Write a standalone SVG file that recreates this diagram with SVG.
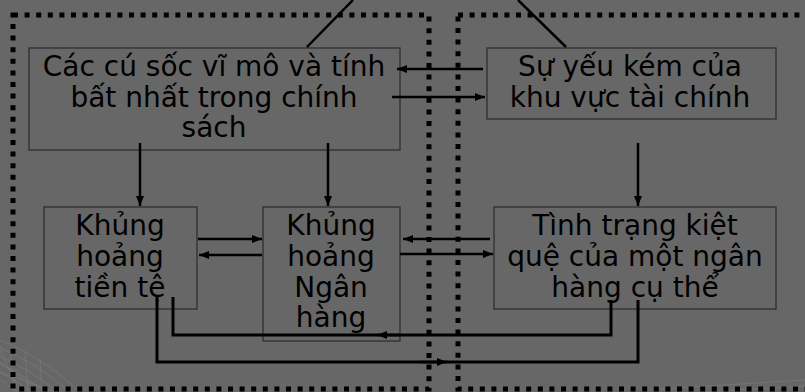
<svg xmlns="http://www.w3.org/2000/svg" width="805" height="392" viewBox="0 0 805 392">
  <defs>
    <style>
      .bg { fill: #676767; }
      .frame { fill: none; stroke: #000; stroke-width: 5; stroke-dasharray: 5 6.6; }
      .box { fill: none; stroke: #2e2e2e; stroke-width: 1.3; }
      .lbl { font-family: "DejaVu Sans", Verdana, sans-serif; font-size: 28px; fill: #000; text-anchor: middle; }
      .line { fill: none; stroke: #000; stroke-width: 2.5; }
      .thick { fill: none; stroke: #000; stroke-width: 3; }
      .arr { fill: none; stroke: #000; stroke-width: 2.5; marker-end: url(#ah); }
      .mesh { fill: none; stroke: #8a8a8a; stroke-width: 0.6; opacity: 0.7; }
    </style>
    <marker id="ah" viewBox="0 0 10 8" refX="10" refY="4" markerWidth="10" markerHeight="8" markerUnits="userSpaceOnUse" orient="auto">
      <path d="M0,0 L10,4 L0,8 Z" fill="#000"/>
    </marker>
  </defs>

  <rect class="bg" x="0" y="0" width="805" height="392"/>

  <!-- faint decorative background mesh -->
  <g id="decor">
    <path class="mesh" d="M0,340 Q40,355 80,392 M0,348 Q35,362 70,392 M0,356 Q30,370 58,392 M0,364 Q25,376 45,392 M0,372 Q18,382 32,392 M0,380 Q10,386 18,392"/>
    <path class="mesh" d="M0,350 L20,392 M0,362 L40,392 M0,372 L55,392 M10,348 L14,392 M25,352 L28,392 M40,360 L42,392"/>
    <path class="mesh" d="M660,389 L805,380 M700,392 L805,386"/>
  </g>

  <!-- dotted frames -->
  <g id="frames">
    <rect class="frame" x="13" y="15" width="416" height="374"/>
    <rect class="frame" x="458" y="15" width="360" height="374"/>
  </g>

  <!-- nodes -->
  <g id="node-macro">
    <rect class="box" x="29" y="48" width="371" height="102"/>
    <text class="lbl" x="214" y="76">Các cú sốc vĩ mô và tính</text>
    <text class="lbl" x="214" y="107">bất nhất trong chính</text>
    <text class="lbl" x="214" y="137">sách</text>
  </g>
  <g id="node-finance">
    <rect class="box" x="487" y="48" width="289" height="71"/>
    <text class="lbl" x="630" y="76">Sự yếu kém của</text>
    <text class="lbl" x="630" y="107">khu vực tài chính</text>
  </g>
  <g id="node-currency">
    <rect class="box" x="44" y="207" width="153" height="102"/>
    <text class="lbl" x="120" y="235">Khủng</text>
    <text class="lbl" x="120" y="266">hoảng</text>
    <text class="lbl" x="120" y="297">tiền tệ</text>
  </g>
  <g id="node-banking">
    <rect class="box" x="263" y="207" width="137" height="134"/>
    <text class="lbl" x="331" y="235">Khủng</text>
    <text class="lbl" x="331" y="266">hoảng</text>
    <text class="lbl" x="331" y="297">Ngân</text>
    <text class="lbl" x="331" y="327">hàng</text>
  </g>
  <g id="node-distress">
    <rect class="box" x="494" y="207" width="282" height="102"/>
    <text class="lbl" x="635" y="235">Tình trạng kiệt</text>
    <text class="lbl" x="635" y="266">quệ của một ngân</text>
    <text class="lbl" x="635" y="297">hàng cụ thể</text>
  </g>

  <!-- connectors -->
  <g id="connectors">
    <line class="line" x1="353" y1="0" x2="307" y2="47"/>
    <line class="line" x1="518" y1="0" x2="566" y2="47"/>

    <line class="arr" x1="483" y1="69" x2="397" y2="69"/>
    <line class="arr" x1="392" y1="97" x2="485" y2="97"/>

    <line class="arr" x1="140" y1="143" x2="140" y2="206"/>
    <line class="arr" x1="328" y1="143" x2="328" y2="206"/>
    <line class="arr" x1="638" y1="143" x2="638" y2="206"/>

    <line class="arr" x1="198" y1="239" x2="262" y2="239"/>
    <line class="arr" x1="262" y1="255" x2="199" y2="255"/>

    <line class="arr" x1="490" y1="239" x2="403" y2="239"/>
    <line class="arr" x1="400" y1="254" x2="493" y2="254"/>

    <path class="thick" d="M611,300 L611,335 L173,335 L173,297"/>
    <line class="arr" x1="400" y1="335" x2="377" y2="335"/>

    <path class="thick" d="M157,297 L157,362 L638,362 L638,300"/>
    <line class="arr" x1="420" y1="362" x2="447" y2="362"/>
  </g>
</svg>
